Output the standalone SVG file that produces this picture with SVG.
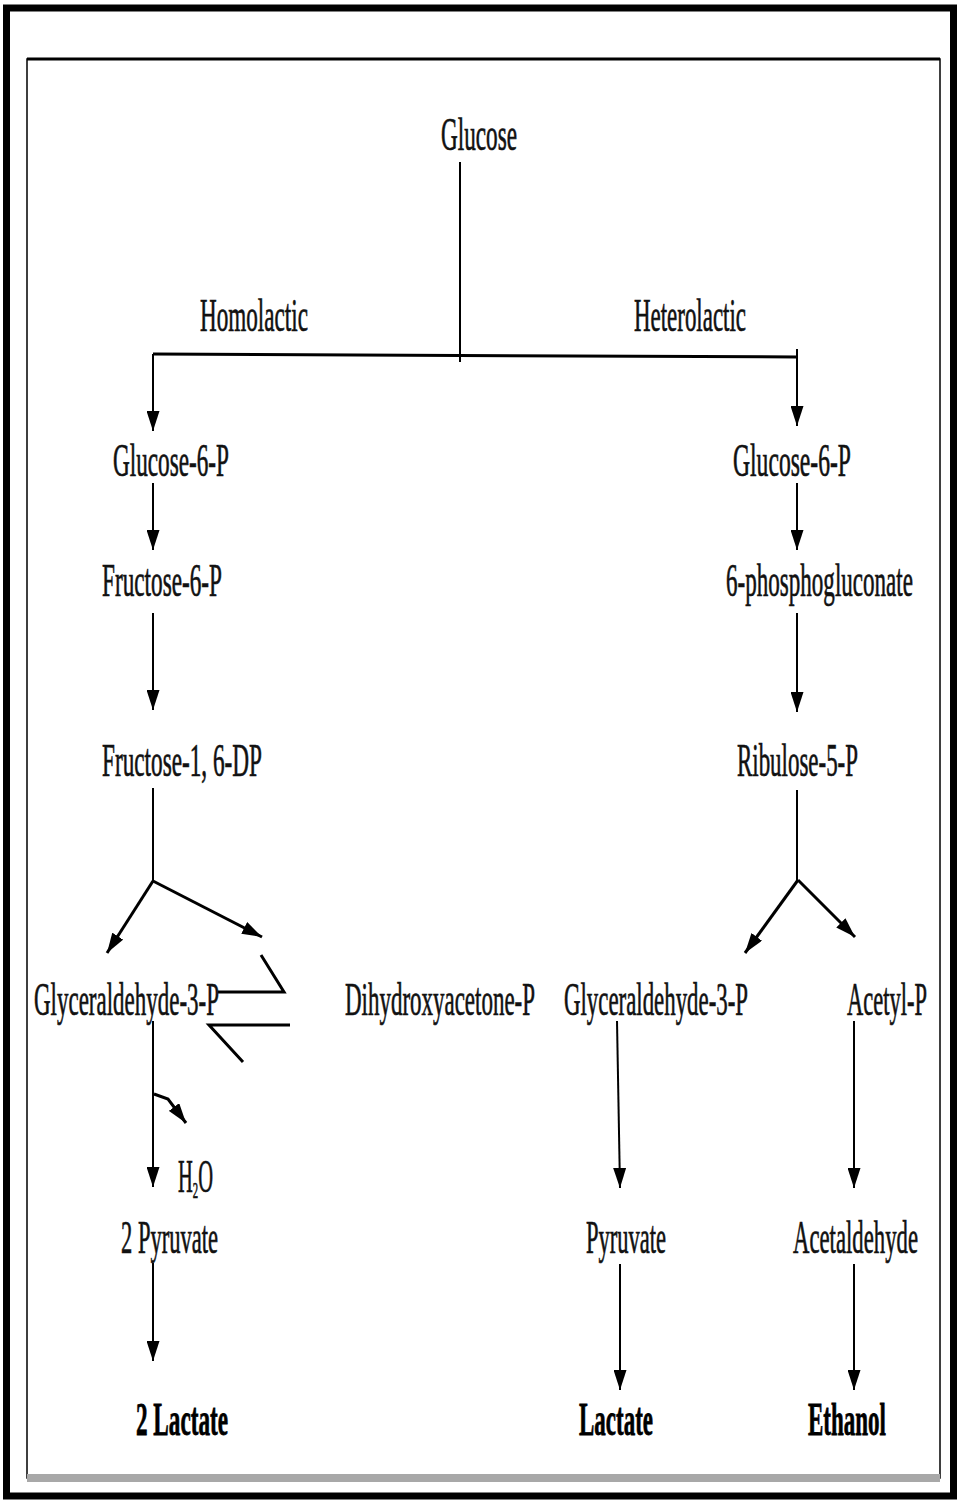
<svg xmlns="http://www.w3.org/2000/svg" width="960" height="1503" viewBox="0 0 960 1503">
<style>
.t{font-family:"Liberation Serif","Times New Roman",serif;font-size:46px;fill:#111;stroke:#111;stroke-width:0.7}
.b{font-family:"Liberation Serif","Times New Roman",serif;font-size:46px;font-weight:bold;fill:#000;stroke:#000;stroke-width:0.8}
.c{fill:none;stroke:#000;stroke-width:2}
.k{fill:none;stroke:#000;stroke-width:3}
</style>
<defs>
<marker id="ah" markerUnits="userSpaceOnUse" markerWidth="22" markerHeight="13" refX="20" refY="6.5" orient="auto" viewBox="0 0 22 13">
<path d="M0,0 L20,6.5 L0,13 Z" fill="#000"/>
</marker>
</defs>
<rect x="0" y="0" width="960" height="1503" fill="#fff"/>
<g id="frame">
<rect x="6.5" y="8" width="947" height="1488" fill="none" stroke="#000" stroke-width="7"/>
<rect x="27" y="59" width="913" height="1419" fill="#fff" stroke="#000" stroke-width="1.5"/>
<line x1="27" y1="59" x2="940" y2="59" stroke="#000" stroke-width="3"/>
<rect x="27" y="1474" width="913" height="8" fill="#a8a8a8"/>
</g>
<g id="connectors">
<path class="c" d="M460,162 V362"/>
<path class="k" d="M153,354 L797,357"/>
<path class="c" d="M153,354 V431" marker-end="url(#ah)"/>
<path class="c" d="M797,349 V426" marker-end="url(#ah)"/>
<path class="c" d="M153,483 V550" marker-end="url(#ah)"/>
<path class="c" d="M797,483 V550" marker-end="url(#ah)"/>
<path class="c" d="M153,613 V710" marker-end="url(#ah)"/>
<path class="c" d="M797,613 V712" marker-end="url(#ah)"/>
<path class="c" d="M153,788 V881"/>
<path class="k" d="M153,881 L107,953" marker-end="url(#ah)"/>
<path class="k" d="M153,881 L262,937" marker-end="url(#ah)"/>
<path class="c" d="M797,790 V880"/>
<path class="k" d="M798,880 L745,953" marker-end="url(#ah)"/>
<path class="k" d="M798,880 L855,937" marker-end="url(#ah)"/>
<path class="k" d="M218,992 H284 L261,955"/>
<path class="k" d="M290,1025 H209 L243,1062"/>
<path class="c" d="M153,1021 V1187" marker-end="url(#ah)"/>
<path class="k" d="M154,1094 L168,1099 L186,1123" marker-end="url(#ah)"/>
<path class="c" d="M153,1263 V1361" marker-end="url(#ah)"/>
<path class="c" d="M617,1021 L620,1188" marker-end="url(#ah)"/>
<path class="c" d="M854,1021 V1188" marker-end="url(#ah)"/>
<path class="c" d="M620,1264 V1390" marker-end="url(#ah)"/>
<path class="c" d="M854,1264 V1390" marker-end="url(#ah)"/>
</g>
<g id="glucose"><text class="t" transform="scale(0.5,1)" x="882" y="150" textLength="152" lengthAdjust="spacingAndGlyphs">Glucose</text></g>
<g id="homolactic"><text class="t" transform="scale(0.5,1)" x="400" y="331" textLength="216" lengthAdjust="spacingAndGlyphs">Homolactic</text></g>
<g id="heterolactic"><text class="t" transform="scale(0.5,1)" x="1268" y="331" textLength="224" lengthAdjust="spacingAndGlyphs">Heterolactic</text></g>
<g id="g6p-left"><text class="t" transform="scale(0.5,1)" x="226" y="476" textLength="232" lengthAdjust="spacingAndGlyphs">Glucose-6-P</text></g>
<g id="g6p-right"><text class="t" transform="scale(0.5,1)" x="1466" y="476" textLength="236" lengthAdjust="spacingAndGlyphs">Glucose-6-P</text></g>
<g id="f6p"><text class="t" transform="scale(0.5,1)" x="204" y="596" textLength="240" lengthAdjust="spacingAndGlyphs">Fructose-6-P</text></g>
<g id="pgluconate"><text class="t" transform="scale(0.5,1)" x="1452" y="596" textLength="374" lengthAdjust="spacingAndGlyphs">6-phosphogluconate</text></g>
<g id="f16dp"><text class="t" transform="scale(0.5,1)" x="204" y="776" textLength="320" lengthAdjust="spacingAndGlyphs">Fructose-1, 6-DP</text></g>
<g id="ribulose"><text class="t" transform="scale(0.5,1)" x="1474" y="776" textLength="242" lengthAdjust="spacingAndGlyphs">Ribulose-5-P</text></g>
<g id="g3p-left"><text class="t" transform="scale(0.5,1)" x="68" y="1015" textLength="370" lengthAdjust="spacingAndGlyphs">Glyceraldehyde-3-P</text></g>
<g id="dhap"><text class="t" transform="scale(0.5,1)" x="690" y="1015" textLength="380" lengthAdjust="spacingAndGlyphs">Dihydroxyacetone-P</text></g>
<g id="g3p-right"><text class="t" transform="scale(0.5,1)" x="1128" y="1015" textLength="368" lengthAdjust="spacingAndGlyphs">Glyceraldehyde-3-P</text></g>
<g id="acetylp"><text class="t" transform="scale(0.5,1)" x="1694" y="1015" textLength="160" lengthAdjust="spacingAndGlyphs">Acetyl-P</text></g>
<g id="h2o"><text class="t" transform="scale(0.5,1)" x="356" y="1192" textLength="70" lengthAdjust="spacingAndGlyphs">H<tspan font-size="24" dy="6">2</tspan><tspan dy="-6">O</tspan></text></g>
<g id="pyruvate2"><text class="t" transform="scale(0.5,1)" x="242" y="1253" textLength="194" lengthAdjust="spacingAndGlyphs">2 Pyruvate</text></g>
<g id="pyruvate"><text class="t" transform="scale(0.5,1)" x="1172" y="1253" textLength="160" lengthAdjust="spacingAndGlyphs">Pyruvate</text></g>
<g id="acetaldehyde"><text class="t" transform="scale(0.5,1)" x="1586" y="1253" textLength="250" lengthAdjust="spacingAndGlyphs">Acetaldehyde</text></g>
<g id="lactate2"><text class="b" transform="scale(0.5,1)" x="272" y="1435" textLength="184" lengthAdjust="spacingAndGlyphs">2 Lactate</text></g>
<g id="lactate"><text class="b" transform="scale(0.5,1)" x="1158" y="1435" textLength="148" lengthAdjust="spacingAndGlyphs">Lactate</text></g>
<g id="ethanol"><text class="b" transform="scale(0.5,1)" x="1616" y="1435" textLength="156" lengthAdjust="spacingAndGlyphs">Ethanol</text></g>
</svg>
